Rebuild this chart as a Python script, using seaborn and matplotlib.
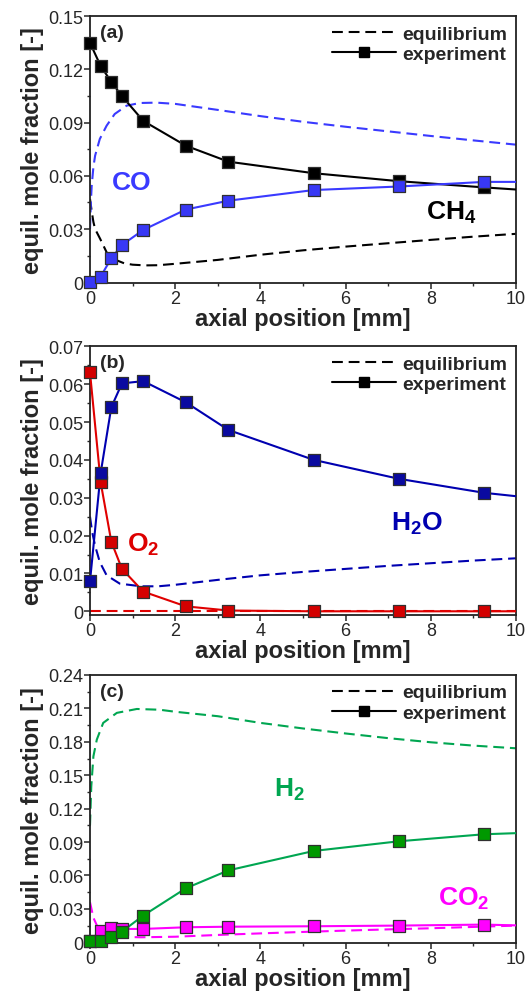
import matplotlib
matplotlib.use("Agg")
import matplotlib.pyplot as plt
import seaborn as sns
from matplotlib.lines import Line2D
from matplotlib.ticker import MultipleLocator, FuncFormatter

sns.set_style("ticks")
plt.rcParams["font.family"] = ["Liberation Sans", "DejaVu Sans"]
plt.rcParams["mathtext.fontset"] = "custom"
plt.rcParams["mathtext.rm"] = "Liberation Sans"
plt.rcParams["mathtext.bf"] = "Liberation Sans:bold"

# ---------------- data ----------------
x_exp = [0, 0.25, 0.5, 0.75, 1.25, 2.25, 3.25, 5.25, 7.25, 9.25]
x_end = 10.0

# (a) CH4 / CO
ch4_exp = [0.135, 0.122, 0.113, 0.105, 0.091, 0.077, 0.068, 0.0615, 0.057, 0.0535]
ch4_exp_end = 0.0523
co_exp = [0.0, 0.0032, 0.0135, 0.021, 0.0295, 0.041, 0.046, 0.052, 0.054, 0.0566]
co_exp_end = 0.0566

ch4_eq_x = [0, 0.04, 0.08, 0.12, 0.24, 0.39, 0.55, 0.8, 1.0, 1.3, 1.6, 2, 3, 4, 5, 6, 7, 8, 9, 10]
ch4_eq = [0.047, 0.040, 0.034, 0.030, 0.0244, 0.0169, 0.0131, 0.0107, 0.0099, 0.0095,
          0.0096, 0.0104, 0.0126, 0.0155, 0.018, 0.0201, 0.022, 0.0239, 0.0257, 0.0273]
co_eq_x = [0, 0.02, 0.04, 0.08, 0.12, 0.23, 0.39, 0.58, 0.86, 1.17, 1.56, 2, 3, 4, 5, 6, 7, 8, 9, 10]
co_eq = [0.030, 0.045, 0.0545, 0.065, 0.0714, 0.0808, 0.0883, 0.0949, 0.0996, 0.1011,
         0.1013, 0.1006, 0.0972, 0.0937, 0.0905, 0.0877, 0.0851, 0.0825, 0.0800, 0.0776]

# (b) O2 / H2O
o2_exp = [0.0631, 0.0341, 0.0184, 0.0112, 0.0052, 0.0013, 0.0002, 0.0, 0.0, 0.0]
o2_exp_end = 0.0
h2o_exp = [0.0079, 0.0365, 0.0539, 0.0602, 0.0608, 0.0552, 0.0479, 0.040, 0.035, 0.0313]
h2o_exp_end = 0.0304

o2_eq_x = [0, 10]
o2_eq = [0.0, 0.0]
h2o_eq_x = [0, 0.05, 0.12, 0.23, 0.39, 0.7, 1.2, 1.6, 2, 3, 4, 5, 6, 7, 8, 9, 10]
h2o_eq = [0.025, 0.021, 0.0173, 0.013, 0.0095, 0.0073, 0.0066, 0.0066, 0.0070, 0.0083,
          0.0095, 0.0104, 0.0112, 0.0120, 0.0127, 0.0134, 0.0140]

# (c) H2 / CO2
h2_exp = [0.0015, 0.0015, 0.0045, 0.0096, 0.024, 0.0485, 0.0646, 0.082, 0.0907, 0.097]
h2_exp_end = 0.098
co2_exp = [0.0015, 0.0105, 0.0126, 0.012, 0.012, 0.0135, 0.014, 0.0144, 0.015, 0.0159]
co2_exp_end = 0.0152

h2_eq_x = [0, 0.03, 0.08, 0.16, 0.31, 0.63, 1.1, 1.64, 2, 3, 4, 5, 6, 7, 8, 9, 10]
h2_eq = [0.105, 0.140, 0.167, 0.182, 0.197, 0.206, 0.2095, 0.2088, 0.207, 0.203, 0.197,
         0.192, 0.1875, 0.1833, 0.1796, 0.1766, 0.1742]
co2_eq_x = [0, 0.08, 0.2, 0.35, 0.6, 1.2, 2, 3, 4, 5, 6, 7, 8, 9, 10]
co2_eq = [0.036, 0.022, 0.012, 0.007, 0.005, 0.0045, 0.005, 0.0066, 0.008, 0.0093,
          0.0105, 0.0116, 0.0126, 0.0138, 0.015]

# ---------------- styling ----------------
DASH = (0, (5.2, 2.8))
LW = 1.5
EDGE = "#303030"
MS = 72

fig = plt.figure(figsize=(5.3, 9.95), dpi=100)
W, H = 530.0, 995.0


def make_axes(top_px, bottom_px):
    left, right = 90, 516
    return fig.add_axes([left / W, 1 - bottom_px / H, (right - left) / W, (bottom_px - top_px) / H])


def species(ax, eq_x, eq_y, exp_y, exp_end, line_col, face_col):
    sns.lineplot(x=eq_x, y=eq_y, ax=ax, color=line_col, lw=LW, linestyle=DASH,
                 sort=False, estimator=None, zorder=2)
    sns.lineplot(x=x_exp + [x_end], y=exp_y + [exp_end], ax=ax, color=line_col, lw=LW,
                 sort=False, estimator=None, zorder=3)
    sns.scatterplot(x=x_exp, y=exp_y, ax=ax, marker="s", s=MS, color=face_col,
                    edgecolor=EDGE, linewidth=0.9, zorder=4, clip_on=False)


def fmt(v, _):
    if abs(v) < 1e-12:
        return "0"
    return f"{v:.2f}"


def finish(ax, ymax, ymin, major, label):
    ax.set_xlim(0, 10)
    ax.set_ylim(ymin, ymax)
    ax.xaxis.set_major_locator(MultipleLocator(2))
    ax.xaxis.set_minor_locator(MultipleLocator(1))
    ax.yaxis.set_major_locator(MultipleLocator(major))
    ax.yaxis.set_minor_locator(MultipleLocator(major / 2))
    ax.yaxis.set_major_formatter(FuncFormatter(fmt))
    ax.tick_params(which="major", direction="out", length=4, width=1.1, labelsize=13, pad=1,
                   top=False, right=False)
    ax.tick_params(which="minor", direction="out", length=2.5, width=1.0, top=False, right=False)
    for s in ax.spines.values():
        s.set_linewidth(1.3)
        s.set_color("#222222")
    ax.set_xlabel("axial position [mm]", fontsize=17, fontweight="bold", labelpad=0)
    ax.set_ylabel("equil. mole fraction [-]", fontsize=17, fontweight="bold", labelpad=3)
    ax.text(0.024, 0.94, label, transform=ax.transAxes, fontsize=14, fontweight="bold",
            ha="left", va="center")
    handles = [
        Line2D([], [], color="black", lw=LW, linestyle=DASH),
        Line2D([], [], color="black", lw=LW, marker="s", ms=7.5, mfc="black", mec="black"),
    ]
    ax.legend(handles, ["equilibrium", "experiment"], loc="upper right", frameon=False,
              prop={"weight": "bold", "size": 14}, handlelength=3.3, handletextpad=0.3,
              labelspacing=0.15, borderaxespad=0.25, borderpad=0.2)


# ---------------- (a) ----------------
ax_a = make_axes(17.3, 284.3)
species(ax_a, ch4_eq_x, ch4_eq, ch4_exp, ch4_exp_end, "black", "black")
species(ax_a, co_eq_x, co_eq, co_exp, co_exp_end, "#3a3aff", "#3838f5")
finish(ax_a, 0.15, -0.0006, 0.03, "(a)")
ax_a.text(0.98, 0.0564, "CO", color="#3a3aff", fontsize=19, fontweight="bold", ha="center", va="center")
ax_a.text(8.49, 0.0395, r"CH$_{\mathbf{4}}$", color="black", fontsize=19, fontweight="bold",
          ha="center", va="center")

# ---------------- (b) ----------------
ax_b = make_axes(347.3, 615.7)
species(ax_b, o2_eq_x, o2_eq, o2_exp, o2_exp_end, "#e00000", "#d40000")
species(ax_b, h2o_eq_x, h2o_eq, h2o_exp, h2o_exp_end, "#0000b0", "#0a0aa0")
finish(ax_b, 0.07, -0.0009, 0.01, "(b)")
ax_b.text(1.25, 0.0178, r"O$_{\mathbf{2}}$", color="#dd0000", fontsize=19, fontweight="bold",
          ha="center", va="center")
ax_b.text(7.67, 0.0235, r"H$_{\mathbf{2}}$O", color="#0000b0", fontsize=19, fontweight="bold",
          ha="center", va="center")

# ---------------- (c) ----------------
ax_c = make_axes(676.0, 944.3)
species(ax_c, co2_eq_x, co2_eq, co2_exp, co2_exp_end, "#ff00ff", "#ff00ff")
species(ax_c, h2_eq_x, h2_eq, h2_exp, h2_exp_end, "#00a651", "#009900")
finish(ax_c, 0.24, -0.0009, 0.03, "(c)")
ax_c.text(4.69, 0.1376, r"H$_{\mathbf{2}}$", color="#00a651", fontsize=19, fontweight="bold",
          ha="center", va="center")
ax_c.text(8.76, 0.0404, r"CO$_{\mathbf{2}}$", color="#ff00ff", fontsize=19, fontweight="bold",
          ha="center", va="center")

fig.savefig("out.png", dpi=100)
